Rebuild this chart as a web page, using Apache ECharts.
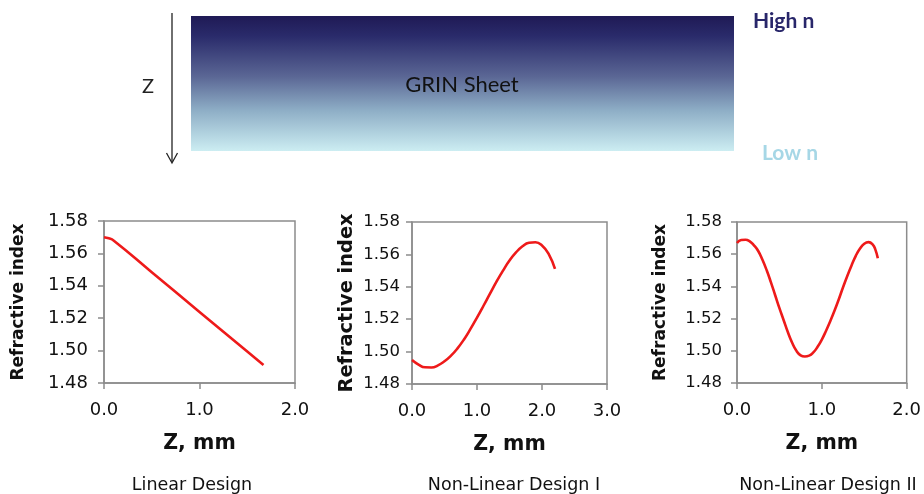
<!DOCTYPE html>
<html>
<head>
<meta charset="utf-8">
<script src="https://cdn.jsdelivr.net/npm/echarts@6/dist/echarts.min.js"></script>
<style>html,body{margin:0;padding:0;background:#fff}#c{width:924px;height:494px}</style>
</head>
<body>
<div id="c"></div>
<script>
// ---- data ----
const captions = ['Linear Design', 'Non-Linear Design I', 'Non-Linear Design II'];
const yTicks = [1.48, 1.50, 1.52, 1.54, 1.56, 1.58];
const xMaxes = [2.0, 3.0, 2.0];

const zLinear = [0, 0.05, 0.1, 0.5, 1.0, 1.5, 1.67];
const nLinear = [1.5700, 1.5693, 1.5680, 1.5484, 1.5239, 1.4994, 1.4911];

const zNL1 = [0.0, 0.1, 0.2, 0.3, 0.4, 0.5, 0.6, 0.7, 0.8, 0.9, 1.0, 1.1, 1.2, 1.3, 1.4, 1.5, 1.6, 1.7, 1.8, 1.9, 2.0, 2.1, 2.2];
const nNL1 = [1.4948, 1.4920, 1.4903, 1.4902, 1.4915, 1.4940, 1.4975, 1.5020, 1.5075, 1.5140, 1.5210, 1.5283, 1.5358, 1.5432, 1.5500, 1.5562, 1.5612, 1.5650, 1.5672, 1.5675, 1.5655, 1.5605, 1.5510];

const zNL2 = [0.0, 0.05, 0.1, 0.15, 0.2, 0.25, 0.3, 0.35, 0.4, 0.45, 0.5, 0.55, 0.6, 0.65, 0.7, 0.75, 0.8, 0.85, 0.9, 0.95, 1.0, 1.05, 1.1, 1.15, 1.2, 1.25, 1.3, 1.35, 1.4, 1.45, 1.5, 1.55, 1.6, 1.63, 1.66];
const nNL2 = [1.5670, 1.5688, 1.5690, 1.5680, 1.5655, 1.5620, 1.5565, 1.5500, 1.5425, 1.5345, 1.5265, 1.5190, 1.5115, 1.5050, 1.5000, 1.4972, 1.4965, 1.4970, 1.4990, 1.5025, 1.5070, 1.5125, 1.5185, 1.5250, 1.5320, 1.5395, 1.5465, 1.5530, 1.5590, 1.5635, 1.5665, 1.5675, 1.5660, 1.5630, 1.5575];

const pairs = (xs, ys) => xs.map((x, i) => [x, ys[i]]);
const seriesData = [pairs(zLinear, nLinear), pairs(zNL1, nNL1), pairs(zNL2, nNL2)];

// ---- layout ----
const grids = [
  {left: 104, right: 629, top: 221, bottom: 111},
  {left: 412, right: 317, top: 222, bottom: 110},
  {left: 737, right: 15, top: 222, bottom: 111}
];
const yLabelSize = [18, 16.5, 16.5];
const yLabelMargin = [16, 12, 15];
const yNameSize = [17, 19.4, 17];
const yNameGap = [77, 56, 68];
const capX = [192, 514, 828];

const axisCol = '#8c8c8c';
const font = 'DejaVu Sans';

const chart = echarts.init(document.getElementById('c'), null, {renderer: 'canvas'});
const option = {
  backgroundColor: '#fff',
  animation: false,
  grid: grids.map(g => Object.assign({show: true, borderColor: axisCol, borderWidth: 1.5, backgroundColor: 'transparent'}, g)),
  xAxis: xMaxes.map((mx, i) => ({
    type: 'value', gridIndex: i, min: 0, max: mx, interval: 1,
    name: 'Z, mm', nameLocation: 'middle', nameGap: 50,
    nameTextStyle: {fontFamily: font, fontWeight: 'bold', fontSize: 20.5, color: '#111'},
    axisLine: {show: true, lineStyle: {color: axisCol, width: 1.5}},
    axisTick: {show: true, inside: false, length: 6, lineStyle: {color: axisCol, width: 1.5}},
    axisLabel: {margin: 18, fontFamily: font, fontSize: 18, color: '#111', formatter: v => v.toFixed(1)},
    splitLine: {show: false}
  })),
  yAxis: [0, 1, 2].map(i => ({
    type: 'value', gridIndex: i, min: yTicks[0], max: yTicks[yTicks.length - 1], interval: 0.02,
    name: 'Refractive index', nameLocation: 'middle', nameGap: yNameGap[i],
    nameTextStyle: {fontFamily: font, fontWeight: 'bold', fontSize: yNameSize[i], color: '#111'},
    axisLine: {show: true, lineStyle: {color: axisCol, width: 1.5}},
    axisTick: {show: true, inside: false, length: 6, lineStyle: {color: axisCol, width: 1.5}},
    axisLabel: {margin: yLabelMargin[i], fontFamily: font, fontSize: yLabelSize[i], color: '#111', formatter: v => v.toFixed(2)},
    splitLine: {show: false}
  })),
  series: seriesData.map((d, i) => ({
    type: 'line', xAxisIndex: i, yAxisIndex: i, data: d,
    showSymbol: false, smooth: true,
    lineStyle: {color: '#ee1a1a', width: 2.6}
  })),
  graphic: [
    {type: 'rect', shape: {x: 191, y: 16, width: 543, height: 135},
     style: {fill: new echarts.graphic.LinearGradient(0, 0, 0, 1, [
       {offset: 0, color: '#1f1a55'},
       {offset: 0.15, color: '#2a2b6b'},
       {offset: 0.45, color: '#5b6795'},
       {offset: 0.7, color: '#8eaec6'},
       {offset: 1, color: '#ccedf2'}
     ])}},
    {type: 'line', shape: {x1: 172, y1: 13, x2: 172, y2: 162}, style: {stroke: '#222', lineWidth: 1.3}},
    {type: 'polyline', shape: {points: [[166.5, 153], [172, 163], [177.5, 153]]}, style: {stroke: '#222', lineWidth: 1.3, fill: null}},
    {type: 'text', style: {text: 'Z', x: 148, y: 87, font: '20px Lato', fill: '#222', textAlign: 'center', textVerticalAlign: 'middle'}},
    {type: 'text', style: {text: 'GRIN Sheet', x: 462, y: 85, font: '22px Lato', fill: '#111', textAlign: 'center', textVerticalAlign: 'middle'}},
    {type: 'text', style: {text: 'High n', x: 753, y: 21, font: 'bold 21px Lato', fill: '#28266a', textAlign: 'left', textVerticalAlign: 'middle'}},
    {type: 'text', style: {text: 'Low n', x: 762, y: 153, font: 'bold 21px Lato', fill: '#a6d7e6', textAlign: 'left', textVerticalAlign: 'middle'}}
  ].concat(captions.map((c, i) => ({
    type: 'text', style: {text: c, x: capX[i], y: 485, font: '17.5px "DejaVu Sans"', fill: '#111', textAlign: 'center', textVerticalAlign: 'middle'}
  })))
};
chart.setOption(option);
</script>
</body>
</html>
